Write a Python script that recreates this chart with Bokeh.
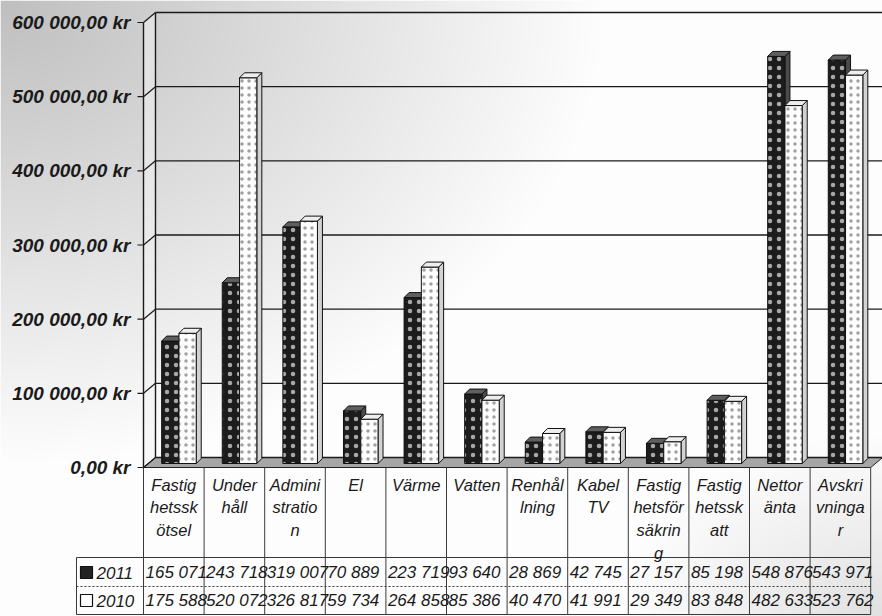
import numpy as np
from bokeh.plotting import figure
from bokeh.models import ColumnDataSource, Range1d
from bokeh.core.properties import value
from bokeh.embed import file_html
from bokeh.resources import INLINE

# ---------------- data ----------------
categories = ["Fastig\nhetssk\nötsel", "Under\nhåll", "Admini\nstratio\nn", "El", "Värme",
              "Vatten", "Renhål\nlning", "Kabel\nTV", "Fastig\nhetsför\nsäkrin\ng",
              "Fastig\nhetssk\natt", "Nettor\nänta", "Avskri\nvninga\nr"]
values_2011 = [165071, 243718, 319007, 70889, 223719, 93640, 28869, 42745, 27157, 85198, 548876, 543971]
values_2010 = [175588, 520072, 326817, 59734, 264858, 85386, 40470, 41991, 29349, 83848, 482633, 523762]
series_names = ["2011", "2010"]
y_ticks = [0, 100000, 200000, 300000, 400000, 500000, 600000]
y_tick_labels = ["0,00 kr", "100 000,00 kr", "200 000,00 kr", "300 000,00 kr",
                 "400 000,00 kr", "500 000,00 kr", "600 000,00 kr"]

# ---------------- geometry helpers ----------------
W, H = 882, 616
PXX = 60.6               # pixels per category
PXY = 445 / 600000       # pixels per kr
ORX, ORY = 143, 467      # pixel position of the (0, 0) corner

def dx(px): return px / PXX
def dy(px): return px / PXY
def xv(px): return (px - ORX) / PXX
def yv(py): return (ORY - py) / PXY

FONT = value("Liberation Sans")
n = len(categories)

p = figure(width=W, height=H, x_range=Range1d(xv(0), xv(W)), y_range=Range1d(yv(H), yv(0)),
           output_backend="svg", toolbar_location=None, min_border=0,
           x_axis_location=None, y_axis_location=None)
p.grid.visible = False
p.outline_line_color = None
p.background_fill_color = "white"
p.border_fill_color = "white"

# ---------------- scanned-paper style background ----------------
pxs = np.arange(W)[None, :].astype(float)
pys = (H - 1 - np.arange(H))[:, None].astype(float)
g = (253 - 62 * np.clip(1 - np.sqrt((pxs / 600) ** 2 + (pys / 460) ** 2), 0, 1)
     - 28 * np.clip(1 - np.sqrt(((W - pxs) / 260) ** 2 + ((H - pys) / 180) ** 2), 0, 1))
img = np.empty((H, W), dtype=np.uint32)
view = img.view(dtype=np.uint8).reshape((H, W, 4))
gi = np.clip(g, 0, 255).astype(np.uint8)
view[..., 0] = gi
view[..., 1] = gi
view[..., 2] = gi
view[..., 3] = 255
p.image_rgba(image=[img], x=xv(0), y=yv(H), dw=xv(W) - xv(0), dh=yv(0) - yv(H))

# ---------------- walls, floor, grid ----------------
WX, WY = dx(12), dy(10)
ymax = y_ticks[-1]
p.patch([0, WX, WX, 0], [0, WY, ymax + WY, ymax], fill_color="#f4f4f4", fill_alpha=0.5,
        line_color=None)
p.patch([0, n, n + WX, WX], [0, 0, WY, WY], fill_color="#a6a6a6", line_color="#222222",
        line_width=1)
tk = ColumnDataSource(dict(t=y_ticks, tb=[t + WY for t in y_ticks], lab=y_tick_labels))
p.segment(x0=WX, y0="tb", x1=xv(W), y1="tb", source=tk, line_color="#1a1a1a", line_width=1.4)
p.segment(x0=0, y0="t", x1=WX, y1="tb", source=tk, line_color="#1a1a1a", line_width=1.2)
p.segment(x0=-dx(6), y0="t", x1=0, y1="t", source=tk, line_color="#1a1a1a", line_width=1.2)
p.segment(x0=[0, WX], y0=[0, WY], x1=[0, WX], y1=[ymax, ymax + WY], line_color="#1a1a1a",
          line_width=1.4)
p.text(x=xv(130), y="t", text="lab", source=tk, text_align="right", text_baseline="middle",
       text_font=FONT, text_font_size="19px", text_font_style="bold italic",
       text_color="#1a1a1a")

# ---------------- 3D bars ----------------
BL, BW = 0.30, 0.285
BDX, BDY = dx(5), dy(5)
BASE = dy(4)
styles = [
    dict(front="#1c1c1c", side="#4a4a4a", top="#5e5e5e", hatch="#a8a8a8", scale=9, weight=1.4),
    dict(front="#fdfdfd", side="#d2d2d2", top="#eeeeee", hatch="#a0a0a0", scale=7, weight=0.8),
]
for s, vals in enumerate([values_2011, values_2010]):
    st = styles[s]
    left = [k + BL + s * BW for k in range(n)]
    right = [l + BW for l in left]
    top = [v + BASE for v in vals]
    side_xs = [[r, r + BDX, r + BDX, r] for r in right]
    side_ys = [[BASE, BASE + BDY, t + BDY, t] for t in top]
    top_xs = [[l, l + BDX, r + BDX, r] for l, r in zip(left, right)]
    top_ys = [[t, t + BDY, t + BDY, t] for t in top]
    p.patches(xs=side_xs, ys=side_ys, fill_color=st["side"], line_color="#111111", line_width=1)
    p.quad(left=left, right=right, bottom=BASE, top=top, fill_color=st["front"],
           hatch_pattern="dot", hatch_color=st["hatch"], hatch_scale=st["scale"],
           hatch_weight=st["weight"], line_color="#111111", line_width=1)
    p.patches(xs=top_xs, ys=top_ys, fill_color=st["top"], line_color="#111111", line_width=1)

# ---------------- data table ----------------
line_c = "#3a3a3a"
p.segment(x0=list(range(n + 1)), y0=yv(467), x1=list(range(n + 1)), y1=yv(614),
          line_color=line_c, line_width=1)
p.segment(x0=[xv(76), xv(76)], y0=[yv(557), yv(557)], x1=[xv(76), n], y1=[yv(614), yv(557)],
          line_color=line_c, line_width=1)
p.segment(x0=xv(76), y0=yv(586), x1=n, y1=yv(586), line_color=line_c, line_width=1,
          line_dash="2 2")
p.segment(x0=xv(76), y0=yv(614), x1=n, y1=yv(614), line_color=line_c, line_width=1.2)

p.text(x=[k + 0.5 for k in range(n)], y=yv(475), text=categories, text_align="center",
       text_baseline="top", text_font=FONT, text_font_size="16.5px", text_font_style="italic",
       text_color="#1a1a1a", text_line_height=1.27)

row_y = [yv(572), yv(600)]
for s, vals in enumerate([values_2011, values_2010]):
    labels = [f"{v:,}".replace(",", " ") for v in vals]
    p.text(x=list(range(n)), y=row_y[s], text=labels, x_offset=2, text_align="left",
           text_baseline="middle", text_font=FONT, text_font_size="17px",
           text_font_style="italic", text_color="#1a1a1a")
    p.quad(left=xv(80), right=xv(92), bottom=row_y[s] - dy(6), top=row_y[s] + dy(6),
           fill_color=["#222222", "#ffffff"][s], line_color="#111111", line_width=1.2)
    p.text(x=xv(96), y=row_y[s], text=[series_names[s]], text_align="left",
           text_baseline="middle", text_font=FONT, text_font_size="17px",
           text_font_style="italic", text_color="#1a1a1a")

open("out.html", "w").write(file_html(p, INLINE))
